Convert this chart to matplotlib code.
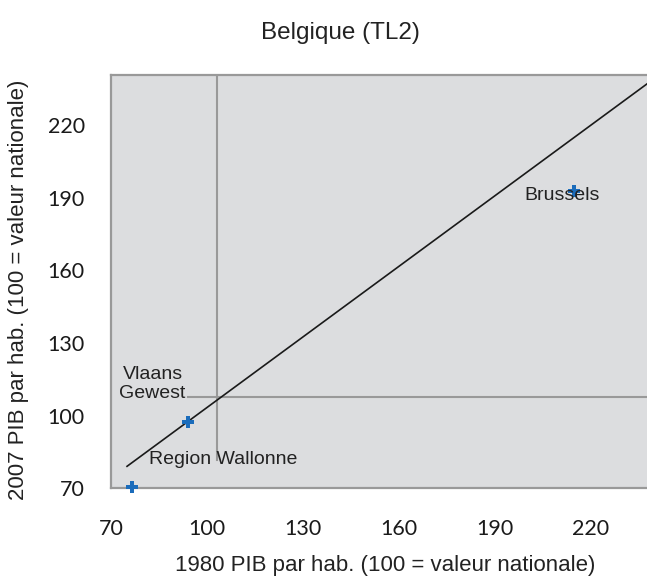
import matplotlib.pyplot as plt

# region values (100 = national value)
regions = ['Brussels', 'Vlaans\nGewest', 'Region Wallonne']
gdp_1980 = [214.7, 94.0, 76.6]
gdp_2007 = [193.0, 97.3, 70.4]

# reference lines
vline_x = 103.0
hline_y = 107.6
diag_x = [75, 240]
diag_y = [79, 239.5]

ticks = [70, 100, 130, 160, 190, 220]

fig = plt.figure(figsize = (6.47, 5.79), dpi = 100)
ax = fig.add_axes([0.1716, 0.157, 0.8284, 0.7133])

ax.set_facecolor('#dcdddf')

ax.axvline(vline_x, ymin = (81.5 - 70) / 170.7, color = '#999999', linewidth = 1.5, zorder = 1)
ax.axhline(hline_y, xmin = (94 - 70) / 167.5, color = '#999999', linewidth = 1.5, zorder = 1)
ax.plot(diag_x, diag_y, color = '#1a1a1a', linewidth = 1.2, zorder = 2)

ax.plot(gdp_1980, gdp_2007, linestyle = 'none', marker = 'P', markersize = 8.5, color = '#1b6cbb', markeredgewidth = 0, zorder = 3, clip_on = False)

label_font = ['Liberation Sans', 'DejaVu Sans']
ax.text(211, 191, regions[0], fontsize = 14, ha = 'center', va = 'center', color = '#222222', family = label_font)
ax.text(83, 113, regions[1], fontsize = 14, ha = 'center', va = 'center', color = '#222222', family = label_font, linespacing = 1.1)
ax.text(105, 82, regions[2], fontsize = 14, ha = 'center', va = 'center', color = '#222222', family = label_font)

ax.set_xlim(70, 237.5)
ax.set_ylim(70, 240.7)
ax.set_xticks(ticks)
ax.set_yticks(ticks)
ax.tick_params(length = 0, labelsize = 15.5, colors = '#1a1a1a')
ax.tick_params(axis = 'x', pad = 22)
ax.tick_params(axis = 'y', pad = 19)
for lab in ax.get_xticklabels() + ax.get_yticklabels():
    lab.set_family(['Lato', 'DejaVu Sans'])

for side in ['left', 'bottom', 'top']:
    ax.spines[side].set_color('#999999')
    ax.spines[side].set_linewidth(1.6)
ax.spines['right'].set_visible(False)

axis_font = ['Liberation Sans', 'DejaVu Sans']
ax.set_xlabel('1980 PIB par hab. (100 = valeur nationale)', fontsize = 16, family = axis_font, color = '#222222')
ax.set_ylabel('2007 PIB par hab. (100 = valeur nationale)', fontsize = 16, family = axis_font, color = '#222222')

fig.text(0.5255, 0.943, 'Belgique (TL2)', fontsize = 17.5, ha = 'center', va = 'center', family = label_font, color = '#222222')

# place axis labels (axes fraction)
ax.xaxis.set_label_coords((385 - 111) / 536, -(565 - 488) / 413)
ax.yaxis.set_label_coords(-(111 - 18) / 536, (488 - 290) / 413)
ax.xaxis.label.set_va('center')
ax.yaxis.label.set_va('center')

plt.savefig('out.png', dpi = 100)
